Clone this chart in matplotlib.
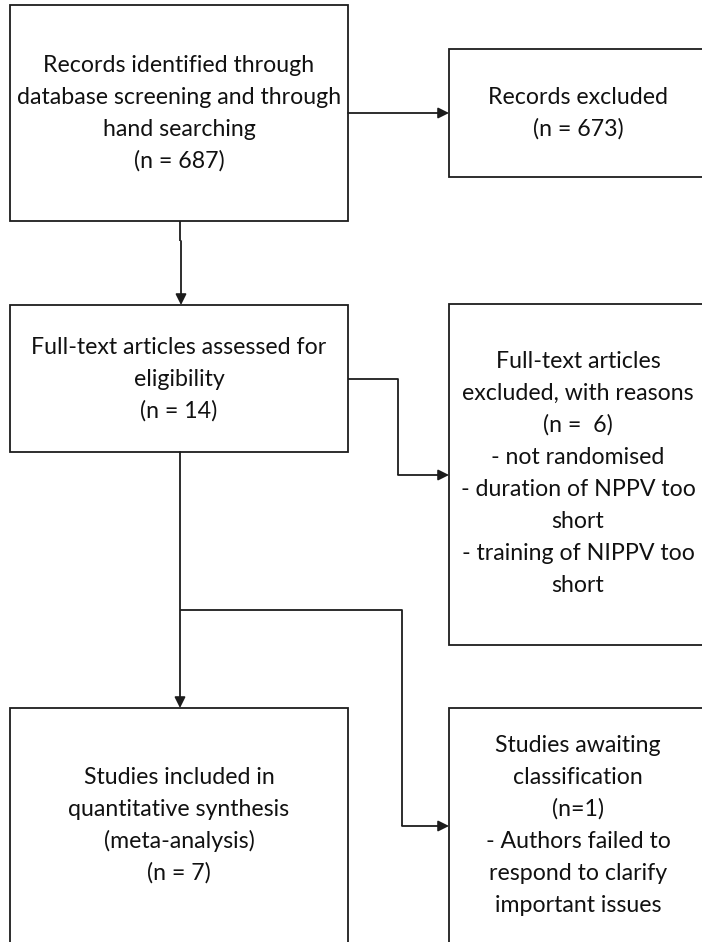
import matplotlib
matplotlib.use("Agg")
import matplotlib.pyplot as plt
from matplotlib.patches import Rectangle

plt.rcParams.update({"font.family": ["Lato", "DejaVu Sans"]})

W, H = 702, 942

# box contents (text lines)
box_identified = ["Records identified through", "database screening and through",
                  "hand searching", "(n = 687)"]
box_excluded = ["Records excluded", "(n = 673)"]
box_fulltext = ["Full-text articles assessed for", "eligibility", "(n = 14)"]
box_ft_excluded = ["Full-text articles", "excluded, with reasons", "(n =  6)",
                   "- not randomised", "- duration of NPPV too", "short",
                   "- training of NIPPV too", "short"]
box_included = ["Studies included in", "quantitative synthesis",
                "(meta-analysis)", "(n = 7)"]
box_awaiting = ["Studies awaiting", "classification", "(n=1)",
                "- Authors failed to", "respond to clarify", "important issues"]

# layout in pixels: (x0, y0, x1, y1, first text line y)
layout = [
    (box_identified, (10, 5, 348, 221, 65)),
    (box_excluded, (449, 49, 712, 177, 97)),
    (box_fulltext, (10, 305, 348, 452, 347)),
    (box_ft_excluded, (449, 304, 712, 645, 361)),
    (box_included, (10, 708, 348, 950, 777)),
    (box_awaiting, (449, 708, 712, 950, 745)),
]
LINE_H = 32
INK = "#1c1c1c"

fig = plt.figure(figsize=(W / 100, H / 100), dpi=100)
ax = fig.add_axes([0, 0, 1, 1])
ax.set_xlim(0, W); ax.set_ylim(H, 0); ax.axis("off")

for lines, (x0, y0, x1, y1, ty) in layout:
    ax.add_patch(Rectangle((x0, y0), x1 - x0, y1 - y0, fc="white", ec=INK, lw=1.3, zorder=2))
    cx = (x0 + min(x1, 707)) / 2
    for i, s in enumerate(lines):
        ax.text(cx, ty + i * LINE_H, s, ha="center", va="center", fontsize=16.7,
                color="#111111", zorder=3)


def seg(xs, ys):
    ax.plot(xs, ys, color=INK, lw=1.3, solid_capstyle="butt", zorder=1)


def arrow(p0, p1):
    ax.annotate("", xy=p1, xytext=p0,
                arrowprops=dict(arrowstyle="-|>", color=INK, lw=1.3,
                                mutation_scale=16, shrinkA=0, shrinkB=0), zorder=3)


# connectors
arrow((348, 113), (449, 113))
seg([180, 180], [221, 241])
arrow((181, 241), (181, 305))
seg([348, 398, 398], [379, 379, 475])
arrow((398, 475), (449, 475))
arrow((180, 452), (180, 708))
seg([180, 402, 402], [610, 610, 826])
arrow((402, 826), (449, 826))

fig.savefig("out.png", dpi=100, facecolor="white")
